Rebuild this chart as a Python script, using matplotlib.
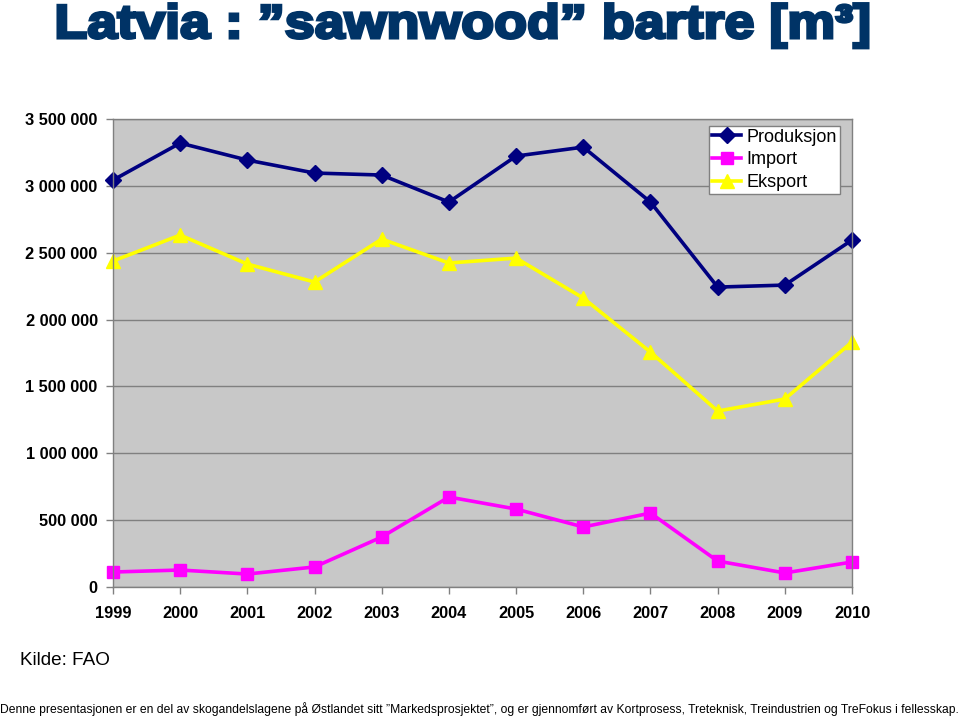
import matplotlib
matplotlib.use("Agg")
import matplotlib.pyplot as plt
from matplotlib.ticker import FuncFormatter
from matplotlib.textpath import TextPath
from matplotlib.font_manager import FontProperties
from matplotlib.patches import PathPatch
from matplotlib.transforms import Affine2D, IdentityTransform

plt.rcParams['font.family'] = ['Liberation Sans', 'DejaVu Sans']

# data (m3)
years = [1999, 2000, 2001, 2002, 2003, 2004, 2005, 2006, 2007, 2008, 2009, 2010]
produksjon = [3043000, 3320000, 3193000, 3096000, 3081000, 2879000,
              3223000, 3290000, 2879000, 2243000, 2258000, 2595000]
import_ = [112000, 127000, 97000, 150000, 374000, 673000,
           583000, 449000, 553000, 194000, 105000, 187000]
eksport = [2438000, 2632000, 2415000, 2281000, 2602000, 2423000,
           2460000, 2161000, 1757000, 1316000, 1406000, 1832000]
series_names = ['Produksjon', 'Import', 'Eksport']
title = 'Latvia : \u201dsawnwood\u201d bartre [m\u00b3]'

fig = plt.figure(figsize=(9.6, 7.17), dpi=100)
ax = fig.add_axes([0.1177, 0.1813, 0.7698, 0.6527])
ax.set_facecolor('#C8C8C8')

ax.plot(years, produksjon, color='#000080', lw=2.6, marker='D', ms=8, label=series_names[0])
ax.plot(years, import_, color='#FF00FF', lw=2.6, marker='s', ms=8.5, label=series_names[1])
ax.plot(years, eksport, color='#FFFF00', lw=2.6, marker='^', ms=9.5, label=series_names[2])
for ln in ax.lines:
    ln.set_clip_on(False)

ax.set_xlim(1999, 2010)
ax.set_ylim(0, 3500000)
ax.set_xticks(years)
ax.set_yticks(range(0, 3500001, 500000))
ax.yaxis.set_major_formatter(FuncFormatter(lambda v, p: f"{int(v):,}".replace(',', ' ')))
ax.grid(axis='y', color='#808080', lw=1)
ax.set_axisbelow(True)

for s in ax.spines.values():
    s.set_color('#808080')
    s.set_linewidth(1)
ax.tick_params(axis='both', colors='#808080', length=5, width=1, labelcolor='black',
               labelsize=11.8, pad=6)
ax.tick_params(axis='x', pad=9)
for lab in ax.get_xticklabels() + ax.get_yticklabels():
    lab.set_fontweight('bold')

leg = ax.legend(loc='upper right', bbox_to_anchor=(0.988, 0.993), fontsize=13,
                frameon=True, fancybox=False, edgecolor='#808080', framealpha=1,
                borderpad=0.15, handlelength=1.6, labelspacing=0.32, handletextpad=0.3,
                borderaxespad=0.2)
leg.get_frame().set_linewidth(1)

# title: heavy, stretched to the width of the original
tp = TextPath((0, 0), title, size=100, prop=FontProperties(family='Liberation Sans', weight='bold'))
bb = tp.get_extents()
sx = 810 / bb.width
sy = 34 / 71.6
tr = Affine2D().translate(-bb.x0, 0).scale(sx, sy).translate(58, 717 - 38)
title_patch = PathPatch(tp, transform=tr + IdentityTransform(), facecolor='#003366',
                        edgecolor='#003366', lw=2.2)
fig.add_artist(title_patch)

fig.text(0.021, 0.079, 'Kilde: FAO', fontsize=13.6, va='center')
fig.text(0.4995, 0.011, 'Denne presentasjonen er en del av skogandelslagene p\u00e5 \u00d8stlandet sitt '
         '\u201dMarkedsprosjektet\u201d, og er gjennomf\u00f8rt av Kortprosess, Treteknisk, '
         'Treindustrien og TreFokus i fellesskap.',
         ha='center', va='center', fontsize=8.76)

fig.savefig('out.png', dpi=100)
